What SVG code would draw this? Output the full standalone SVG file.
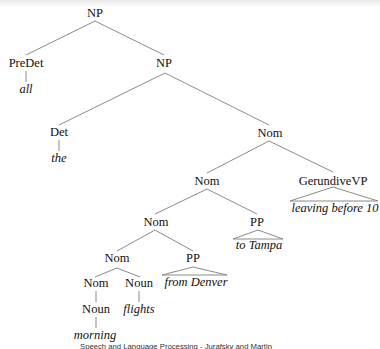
<svg xmlns="http://www.w3.org/2000/svg" width="380" height="349" viewBox="0 0 380 349" font-family="Liberation Serif, Times New Roman, serif">
<defs>
<linearGradient id="band" x1="0" y1="0" x2="0" y2="1">
<stop offset="0" stop-color="#e8e8e8"/>
<stop offset="1" stop-color="#ffffff"/>
</linearGradient>
</defs>
<style>
text{font-family:"Liberation Serif","Times New Roman",serif;font-size:12.5px;fill:#111;text-anchor:middle}
.t{font-style:italic}
#edges line,#edges polygon{stroke:#8a8a8a;stroke-width:1;fill:none}
text.foot{font-family:"Liberation Sans",Arial,sans-serif;font-size:8px;fill:#333;text-anchor:start}
</style>
<rect width="380" height="349" fill="#fff"/>
<rect width="380" height="7" fill="url(#band)"/>
<g id="edges">
<line x1="95" y1="21" x2="26" y2="55"/>
<line x1="95" y1="21" x2="164" y2="55"/>
<line x1="26" y1="71" x2="26" y2="82"/>
<line x1="165" y1="73" x2="59" y2="125"/>
<line x1="165" y1="73" x2="269" y2="125"/>
<line x1="59" y1="140" x2="59" y2="151"/>
<line x1="269" y1="141" x2="207" y2="173"/>
<line x1="269" y1="141" x2="333" y2="172"/>
<polygon points="333,187 290,201 378,201"/>
<line x1="207" y1="189" x2="155" y2="214"/>
<line x1="207" y1="189" x2="257" y2="214"/>
<polygon points="258,230 233,239 283,239"/>
<line x1="155" y1="230" x2="117" y2="251"/>
<line x1="155" y1="230" x2="193" y2="251"/>
<polygon points="193,267 162,275 227,275"/>
<line x1="117" y1="268" x2="95" y2="277"/>
<line x1="117" y1="268" x2="140" y2="277"/>
<line x1="96" y1="291" x2="96" y2="302"/>
<line x1="139" y1="291" x2="139" y2="302"/>
<line x1="96" y1="317" x2="96" y2="328"/>
</g>
<g id="n-np"><text x="95" y="17">NP</text></g>
<g id="n-predet"><text x="26" y="67">PreDet</text></g>
<g id="n-all"><text class="t" x="26" y="93">all</text></g>
<g id="n-np2"><text x="164" y="67">NP</text></g>
<g id="n-det"><text x="59" y="136">Det</text></g>
<g id="n-the"><text class="t" x="59" y="162">the</text></g>
<g id="n-nom1"><text x="270" y="137">Nom</text></g>
<g id="n-nom2"><text x="207" y="185">Nom</text></g>
<g id="n-gvp"><text x="333" y="185">GerundiveVP</text></g>
<g id="n-leaving"><text class="t" x="335" y="212">leaving before 10</text></g>
<g id="n-nom3"><text x="156" y="226">Nom</text></g>
<g id="n-pp1"><text x="257" y="226">PP</text></g>
<g id="n-totampa"><text class="t" x="259" y="249">to Tampa</text></g>
<g id="n-nom4"><text x="117" y="262">Nom</text></g>
<g id="n-pp2"><text x="193" y="262">PP</text></g>
<g id="n-fromdenver"><text class="t" x="196" y="286">from Denver</text></g>
<g id="n-nom5"><text x="96" y="287">Nom</text></g>
<g id="n-noun1"><text x="139" y="287">Noun</text></g>
<g id="n-noun2"><text x="96" y="313">Noun</text></g>
<g id="n-flights"><text class="t" x="139" y="313">flights</text></g>
<g id="n-morning"><text class="t" x="95" y="339">morning</text></g>
<text class="foot" x="80" y="348.5" textLength="192" lengthAdjust="spacingAndGlyphs">Speech and Language Processing - Jurafsky and Martin</text>
</svg>
